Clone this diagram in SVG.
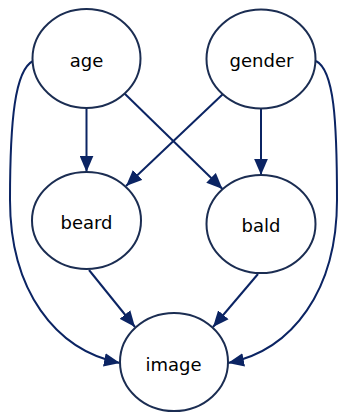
<svg xmlns="http://www.w3.org/2000/svg" width="339" height="413" viewBox="0 0 339 413">
  <style>
    .node ellipse { fill: #ffffff; stroke: #1b2d52; stroke-width: 2; }
    .node text { font-family: "DejaVu Sans", "Liberation Sans", sans-serif; font-size: 18px; fill: #000000; text-anchor: middle; }
    .edge { fill: none; stroke: #0b2463; stroke-width: 2; marker-end: url(#arrow); }
  </style>
  <defs>
    <marker id="arrow" markerUnits="userSpaceOnUse" markerWidth="16" markerHeight="14" refX="14" refY="6" orient="auto" viewBox="0 0 14 12">
      <path d="M0,0 L14,6 L0,12 Z" fill="#0b2463"/>
    </marker>
  </defs>
  <rect width="339" height="413" fill="#ffffff"/>

  <!-- edges -->
  <g id="edges">
    <path class="edge" d="M86.5,108 L86.5,172"/>
    <path class="edge" d="M261,108.5 L261,175"/>
    <path class="edge" d="M124,93 L222.5,189"/>
    <path class="edge" d="M223,94 L126,186"/>
    <path class="edge" d="M89,270 L135,327"/>
    <path class="edge" d="M258,274 L213,327"/>
    <path class="edge" d="M33,61 C15,70 10,120 10,200 C10,290 55,350 120,363"/>
    <path class="edge" d="M316,61 C334,70 337,120 337,200 C337,290 293,350 228,363"/>
  </g>

  <!-- nodes -->
  <g id="age" class="node">
    <ellipse cx="86.5" cy="58.5" rx="54" ry="49.5"/>
    <text x="86.5" y="67">age</text>
  </g>
  <g id="gender" class="node">
    <ellipse cx="261" cy="59" rx="54.5" ry="49.5"/>
    <text x="261.5" y="67">gender</text>
  </g>
  <g id="beard" class="node">
    <ellipse cx="86.5" cy="220.5" rx="54.5" ry="48.5"/>
    <text x="86.5" y="228.5">beard</text>
  </g>
  <g id="bald" class="node">
    <ellipse cx="261" cy="224" rx="54.5" ry="49"/>
    <text x="261" y="232">bald</text>
  </g>
  <g id="image" class="node">
    <ellipse cx="174" cy="362" rx="54" ry="49"/>
    <text x="173.5" y="371">image</text>
  </g>
</svg>
